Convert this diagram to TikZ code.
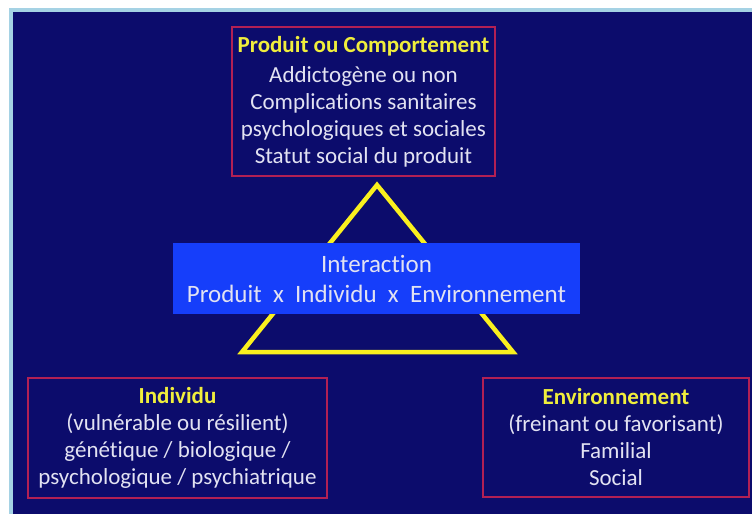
\documentclass[tikz,border=0pt]{standalone}
\usepackage{fontspec}
\setmainfont[Ligatures=NoCommon]{Carlito}

\definecolor{fond}{RGB}{12,12,108}
\definecolor{bordclair}{RGB}{165,210,228}
\definecolor{cadrerouge}{RGB}{178,32,84}
\definecolor{jaune}{RGB}{240,238,60}
\definecolor{jaunetri}{RGB}{250,240,30}
\definecolor{texteclair}{RGB}{226,226,242}
\definecolor{bleuvif}{RGB}{22,62,250}

\newcommand{\titre}[1]{\textcolor{jaune}{\textbf{#1}}}

\tikzset{
  cadre/.style={draw=cadrerouge, line width=1.6pt, fill=fond, align=center,
    text=texteclair, inner sep=0pt, font=\fontsize{23}{27}\selectfont},
  bandeau/.style={fill=bleuvif, align=center, text=texteclair, inner sep=0pt,
    minimum width=407pt, minimum height=71pt, font=\fontsize{25}{30}\selectfont},
  triangle/.style={draw=jaunetri, line width=4.5pt, line join=miter}
}

\begin{document}
\begin{tikzpicture}[x=1pt, y=-1pt]
\useasboundingbox (0,0) rectangle (752,514);

% fond
\fill [white](0,0) rectangle (752,514);
\fill [bordclair](9,8) rectangle (752,514);
\fill [fond](13,12) rectangle (752,514);

% triangle
\coordinate (sommet) at (377,185);
\coordinate (baseG) at (242,352);
\coordinate (baseD) at (513,352);
\draw [triangle](sommet) -- (baseD) -- (baseG) -- cycle;

% cadres
\node [cadre, minimum width=263pt, minimum height=149pt] (produit) at (363.5,101.5)
  {\titre{Produit ou Comportement}\\[3pt] Addictogène ou non\\ Complications sanitaires\\
   psychologiques et sociales\\ Statut social du produit};
\node [cadre, minimum width=299pt, minimum height=120pt] (individu) at (177.5,438)
  {\titre{Individu}\\ (vulnérable ou résilient)\\ génétique / biologique /\\
   psychologique / psychiatrique};
\node [cadre, minimum width=266pt, minimum height=119pt] (environnement) at (616,437.5)
  {\titre{Environnement}\\ (freinant ou favorisant)\\ Familial\\ Social};

% interaction
\node [bandeau] (interaction) at (376.5,278.5)
  {Interaction\\ Produit\ \ x\ \ Individu\ \ x\ \ Environnement};
\end{tikzpicture}
\end{document}
